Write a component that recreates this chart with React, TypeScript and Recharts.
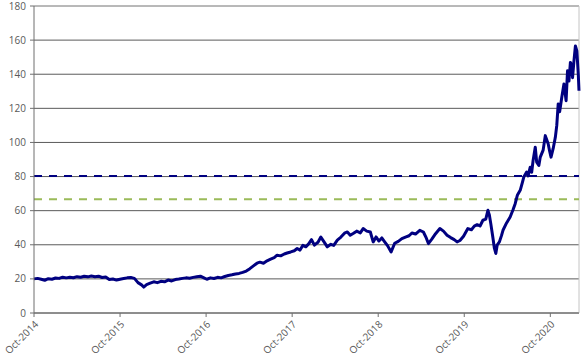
import React from 'react';
import { LineChart, Line, XAxis, YAxis, CartesianGrid, ReferenceLine } from 'recharts';

// months elapsed since Oct-2014
const months = [
  0, 0.5, 1, 1.5, 2, 2.5, 3, 3.5, 4, 4.5, 5, 5.5,
  6, 6.5, 7, 7.5, 8, 8.5, 9, 9.5, 10, 10.5, 11, 11.5,
  12, 12.5, 13, 13.5, 14, 14.5, 15, 15.3, 15.7, 16.2, 16.7, 17.2,
  17.7, 18.2, 18.7, 19.2, 19.7, 20.2, 20.7, 21.2, 21.7, 22.2, 22.7, 23.2,
  23.7, 24.1, 24.6, 25.1, 25.6, 26.1, 26.6, 27.1, 27.6, 28.1, 28.6, 29.1,
  29.6, 30.1, 30.6, 31.1, 31.5, 32, 32.5, 33, 33.5, 33.9, 34.4, 34.9,
  35.3, 35.8, 36.3, 36.7, 37.1, 37.5, 37.9, 38.3, 38.7, 39.1, 39.6, 40,
  40.4, 40.9, 41.4, 41.8, 42.3, 42.8, 43.3, 43.7, 44.1, 44.5, 45, 45.5,
  45.9, 46.4, 46.9, 47.3, 47.7, 48.1, 48.5, 48.9, 49.3, 49.8, 50.3, 50.8,
  51.3, 51.8, 52.3, 52.7, 53.2, 53.8, 54.3, 54.7, 55, 55.5, 56, 56.6,
  57.1, 57.6, 58.1, 58.6, 59, 59.4, 59.9, 60.5, 61, 61.4, 61.8, 62.2,
  62.6, 63, 63.3, 63.5, 63.7, 64, 64.2, 64.4, 64.6, 64.9, 65.2, 65.4,
  65.9, 66.4, 66.8, 67.1, 67.4, 67.8, 68.1, 68.3, 68.7, 68.9, 69.2, 69.4,
  69.6, 69.9, 70.1, 70.4, 70.6, 71, 71.3, 71.7, 71.9, 72.1, 72.4, 72.7,
  72.9, 73.1, 73.3, 73.6, 73.9, 74.1, 74.2, 74.4, 74.6, 74.8, 75, 75.1,
  75.3, 75.5, 75.7, 75.9, 76,
];

const prices = [
  20.0, 20.3, 19.8, 19.2, 20.1, 19.8, 20.5, 20.3, 21.0, 20.6, 21.0, 20.7,
  21.3, 21.0, 21.5, 21.2, 21.7, 21.3, 21.6, 20.8, 21.1, 19.6, 19.9, 19.3,
  19.8, 20.2, 20.6, 20.8, 20.3, 17.8, 16.5, 15.2, 16.6, 17.5, 18.3, 17.8,
  18.6, 18.3, 19.3, 18.8, 19.6, 19.9, 20.3, 20.6, 20.4, 20.9, 21.3, 21.6,
  20.6, 19.8, 20.6, 20.2, 20.9, 20.6, 21.4, 22.0, 22.4, 22.9, 23.2, 23.8,
  24.6, 26.0, 27.6, 29.2, 29.8, 29.2, 30.6, 31.6, 32.5, 33.9, 33.5, 34.6,
  35.2, 35.8, 36.5, 37.8, 36.9, 39.7, 38.8, 40.5, 43.0, 39.8, 41.5, 44.5,
  42.0, 38.8, 40.3, 39.6, 42.7, 44.5, 46.8, 47.5, 45.6, 46.6, 48.0, 47.0,
  49.5, 48.0, 47.5, 41.7, 44.6, 42.2, 44.0, 41.7, 39.5, 35.8, 40.9, 42.0,
  43.6, 44.5, 45.3, 46.9, 46.3, 48.5, 47.5, 44.0, 40.7, 43.5, 46.5, 49.5,
  48.0, 45.6, 44.2, 43.0, 41.7, 42.5, 45.0, 49.5, 48.8, 50.9, 51.8, 51.0,
  54.4, 55.0, 60.2, 57.5, 52.4, 44.0, 38.0, 34.9, 40.0, 41.7, 45.5, 48.5,
  52.8, 56.3, 60.5, 64.1, 69.0, 71.9, 76.5, 79.7, 82.6, 80.4, 85.5, 82.5,
  89.4, 97.2, 88.4, 86.5, 91.4, 95.5, 104.0, 99.2, 95.0, 91.4, 96.5, 103.0,
  110.0, 122.6, 118.0, 126.5, 134.3, 128.0, 124.5, 142.0, 136.0, 146.9, 145.0, 138.0,
  148.0, 156.6, 153.7, 140.0, 130.3,
];

const xTicks = [0, 12, 24, 36, 48, 60, 72];
const xTickLabels = ['Oct-2014', 'Oct-2015', 'Oct-2016', 'Oct-2017', 'Oct-2018', 'Oct-2019', 'Oct-2020'];
const yTicks = [0, 20, 40, 60, 80, 100, 120, 140, 160, 180];

const navyLevel = 80.3;
const greenLevel = 66.7;

const data = months.map((m, i) => ({ m, price: prices[i] }));

const FONT = '"Open Sans", sans-serif';
const TEXT = '#595959';

// rotated date label
const DateTick = ({ x, y, payload }: { x?: number; y?: number; payload?: { value: number } }) => {
  const idx = xTicks.indexOf(payload?.value ?? -1);
  const tx = (x ?? 0) + 5;
  const ty = (y ?? 0) + 6;
  return (
    <text
      x={tx}
      y={ty}
      transform={`rotate(-45 ${tx} ${ty})`}
      textAnchor="end"
      fontSize={10}
      fontFamily={FONT}
      fill={TEXT}
    >
      {xTickLabels[idx]}
    </text>
  );
};

export default function App() {
  return (
    <div style={{ position: 'absolute', left: 0, top: 0 }}>
      <LineChart width={587} height={356} data={data} margin={{ top: 6, right: 8, bottom: 0, left: 0 }}>
        <CartesianGrid vertical={false} stroke="#5a5a5a" strokeWidth={1} />
        <XAxis
          dataKey="m"
          type="number"
          domain={[0, 76]}
          ticks={xTicks}
          interval={0}
          height={43}
          tick={<DateTick />}
          tickSize={4}
          axisLine={{ stroke: '#6f6f6f' }}
          tickLine={{ stroke: '#6f6f6f' }}
        />
        <YAxis
          type="number"
          domain={[0, 180]}
          ticks={yTicks}
          interval={0}
          width={34}
          tickSize={4}
          tickMargin={4}
          axisLine={{ stroke: '#6f6f6f' }}
          tickLine={{ stroke: '#6f6f6f' }}
          tick={{ fontSize: 10, fontFamily: FONT, fill: TEXT }}
        />
        <ReferenceLine y={180} stroke="#c4c4c4" />
        <ReferenceLine x={76} stroke="#c4c4c4" />
        <ReferenceLine y={navyLevel} stroke="#000080" strokeWidth={2} strokeDasharray="8 7" />
        <ReferenceLine y={greenLevel} stroke="#9bbb59" strokeWidth={2} strokeDasharray="8 7" />
        <Line
          type="linear"
          dataKey="price"
          stroke="#000080"
          strokeWidth={3}
          strokeLinejoin="round"
          dot={false}
          isAnimationActive={false}
        />
      </LineChart>
    </div>
  );
}
